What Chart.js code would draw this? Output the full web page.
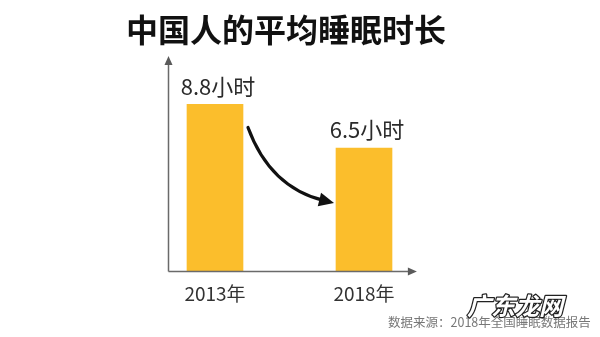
<!DOCTYPE html>
<html>
<head>
<meta charset="utf-8">
<script src="https://cdn.jsdelivr.net/npm/chart.js@4"></script>
<style>
  html, body { margin: 0; padding: 0; background: #ffffff; }
  #wrap { width: 600px; height: 337px; position: relative; }
</style>
</head>
<body>
<div id="wrap"><canvas id="c"></canvas></div>
<script>
const categories = ['2013年', '2018年'];
const sleepHours = [8.8, 6.5];
const unitLabel = '小时';
const titleText = '中国人的平均睡眠时长';
const sourceText = '数据来源：2018年全国睡眠数据报告';
const watermarkText = '广东龙网';

const CJK = '"Noto Sans CJK SC", "Noto Sans", sans-serif';

const decorPlugin = {
  id: 'decor',
  afterDatasetsDraw(chart) {
    const ctx = chart.ctx;
    const xs = chart.scales.x, ys = chart.scales.y;
    const bars = chart.getDatasetMeta(0).data;
    ctx.save();

    // axes with arrowheads
    const ax = Math.round(xs.getPixelForValue(-0.315)) + 0.5;
    const ay = Math.round(ys.getPixelForValue(0)) + 0.5;
    const yTip = ys.getPixelForValue(ys.max) - 2;
    const xTip = xs.getPixelForValue(1.355);
    ctx.strokeStyle = '#6a6a6a';
    ctx.fillStyle = '#5a5a5a';
    ctx.lineWidth = 1.5;
    ctx.beginPath();
    ctx.moveTo(ax, ay);
    ctx.lineTo(ax, yTip + 6);
    ctx.moveTo(ax, ay);
    ctx.lineTo(xTip - 6, ay);
    ctx.stroke();
    ctx.beginPath();
    ctx.moveTo(ax, yTip);
    ctx.lineTo(ax - 4, yTip + 9);
    ctx.lineTo(ax + 4, yTip + 9);
    ctx.closePath();
    ctx.fill();
    ctx.beginPath();
    ctx.moveTo(xTip, ay);
    ctx.lineTo(xTip - 9, ay - 4);
    ctx.lineTo(xTip - 9, ay + 4);
    ctx.closePath();
    ctx.fill();

    // value labels
    ctx.fillStyle = '#2b2b2b';
    ctx.font = '22px ' + CJK;
    ctx.textAlign = 'center';
    ctx.textBaseline = 'middle';
    bars.forEach((b, i) => {
      ctx.fillText(sleepHours[i] + unitLabel, b.x + 3, b.y - 18);
    });

    // curved arrow between bars
    const b1 = bars[0], b2 = bars[1];
    const sx = b1.x + b1.width / 2 + 5, sy = b1.y + 23;
    const tx = b2.x - b2.width / 2 - 2, ty = b2.y + 55;
    const cx = sx + 22, cy = sy + 60;
    let dx = tx - cx, dy = ty - cy;
    const len = Math.hypot(dx, dy);
    dx /= len; dy /= len;
    const ex = tx - 10 * dx, ey = ty - 10 * dy;
    ctx.strokeStyle = '#111111';
    ctx.lineWidth = 3.2;
    ctx.lineCap = 'round';
    ctx.beginPath();
    ctx.moveTo(sx, sy);
    ctx.quadraticCurveTo(cx, cy, ex, ey);
    ctx.stroke();
    const bx = tx - 15 * dx, by = ty - 15 * dy;
    ctx.fillStyle = '#111111';
    ctx.beginPath();
    ctx.moveTo(tx, ty);
    ctx.lineTo(bx - 7 * dy, by + 7 * dx);
    ctx.lineTo(bx + 7 * dy, by - 7 * dx);
    ctx.closePath();
    ctx.fill();

    // title
    ctx.fillStyle = '#111111';
    ctx.font = 'bold 32px ' + CJK;
    ctx.textAlign = 'center';
    ctx.textBaseline = 'middle';
    ctx.fillText(titleText, 286, 30);

    // source
    ctx.fillStyle = '#777777';
    ctx.font = '12.5px ' + CJK;
    ctx.textAlign = 'left';
    ctx.fillText(sourceText, 388, 322);

    // watermark
    ctx.font = 'italic bold 24px ' + CJK;
    ctx.textAlign = 'center';
    ctx.lineWidth = 2.5;
    ctx.strokeStyle = '#222222';
    ctx.fillStyle = '#ffffff';
    ctx.lineJoin = 'round';
    ctx.strokeText(watermarkText, 515, 306);
    ctx.fillText(watermarkText, 515, 306);

    ctx.restore();
  }
};

new Chart(document.getElementById('c'), {
  type: 'bar',
  data: {
    labels: categories,
    datasets: [{
      data: sleepHours,
      backgroundColor: '#FBBE2C',
      borderWidth: 0,
      barThickness: 56
    }]
  },
  options: {
    responsive: true,
    maintainAspectRatio: false,
    devicePixelRatio: 1,
    animation: false,
    layout: { padding: { left: 140.5, right: 161.5, top: 58, bottom: 21 } },
    plugins: { legend: { display: false }, tooltip: { enabled: false }, title: { display: false } },
    scales: {
      x: {
        offset: true,
        grid: { display: false, drawTicks: false },
        border: { display: false },
        ticks: { color: '#333333', font: { size: 19, family: CJK }, padding: 11 }
      },
      y: {
        display: false,
        min: 0,
        max: 11.25
      }
    }
  },
  plugins: [decorPlugin]
});
</script>
</body>
</html>
